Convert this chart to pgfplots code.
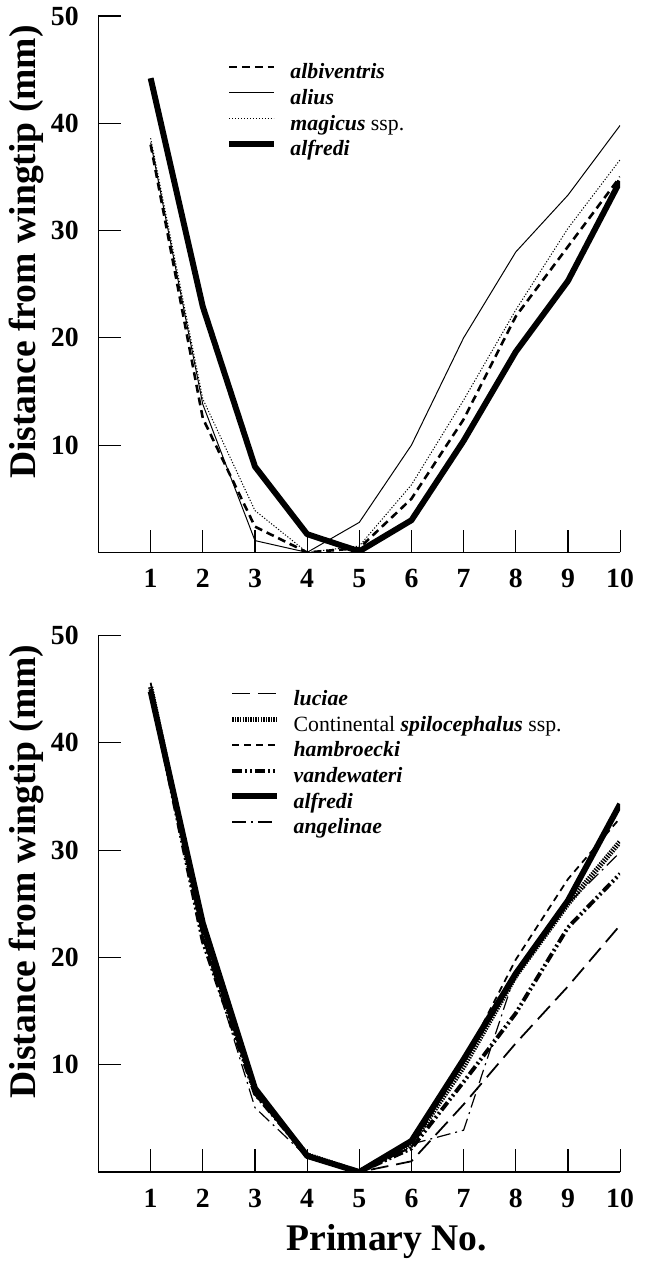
\documentclass[border=0pt]{standalone}
\usepackage{fontspec}
\setmainfont{Liberation Serif}
\usepackage{pgfplots}
\pgfplotsset{compat=1.18}

% distances of the primary tips from the wingtip, top panel
\pgfplotstableread{
x  albiventris alius magicus alfredi
1  38.0  38.2  38.6  44.2
2  12.5  13.8  14.3  22.9
3  2.4   1.1   3.9   8.0
4  0.0   0.0   0.0   1.7
5  0.4   2.8   0.6   0.1
6  5.0   10.0  6.3   3.0
7  12.4  20.0  14.2  10.4
8  22.0  28.0  22.6  18.7
9  28.5  33.3  30.2  25.3
10 35.0  39.8  36.6  34.6
}\toppanel

% bottom panel
\pgfplotstableread{
x  luciae cont hamb vand alfredi angel
1  45.0 45.2 45.6 45.0 44.8 45.0
2  22.0 22.5 22.0 21.5 23.2 21.8
3  7.2  7.6  7.5  7.3  7.8  6.0
4  1.5  1.6  1.5  1.5  1.5  1.4
5  0.0  0.0  0.0  0.0  0.0  0.0
6  1.0  2.6  2.3  2.2  2.9  2.6
7  6.3  9.8  10.3 8.4  10.5 3.9
8  12.0 18.3 19.8 14.8 18.5 18.6
9  17.3 25.0 27.3 22.8 25.3 25.0
10 23.0 30.8 33.0 27.8 34.3 29.8
}\botpanel

\pgfplotsset{
  wing/.style={
    scale only axis, width=263.5pt, height=271pt,
    xmin=0, xmax=10, ymin=0, ymax=50,
    axis x line=bottom, axis y line=left,
    axis line style={-, line width=0.6pt},
    xtick={1,...,10}, ytick={10,20,...,50},
    tick align=inside, major tick length=11.5pt,
    tick style={line width=0.6pt, black},
    /pgf/number format/assume math mode=true,
    ticklabel style={font=\fontsize{14}{16}\selectfont\bfseries},
    xticklabel style={yshift=-5pt},
    yticklabel style={xshift=-6.5pt},
    ylabel={Distance from wingtip (mm)},
    ylabel style={font=\fontsize{19}{22}\selectfont\bfseries,
      at={(axis description cs:-0.1376,0.56)}, anchor=center},
    legend cell align=left,
    legend image code/.code={\draw[#1] (0pt,3.5pt) -- (22.5pt,3.5pt);},
    legend style={draw=none, fill=none, inner sep=0pt,
      font=\fontsize{11}{13}\selectfont,
      nodes={inner sep=0pt, text height=9pt, text depth=4pt},
      column sep=7pt, anchor=north west},
    line join=round,
  },
}

\begin{document}
\begin{tikzpicture}
\begin{axis}[wing, legend style={at={(0.244,0.917)}}]
\addplot[black, line width=1.3pt, dash pattern=on 4pt off 2.5pt] table[y=albiventris] {\toppanel};
\addlegendentry{\textbf{\textit{albiventris}}}
\addplot[black, line width=0.5pt] table[y=alius] {\toppanel};
\addlegendentry{\textbf{\textit{alius}}}
\addplot[black, line width=0.5pt, dash pattern=on 0.6pt off 0.9pt] table[y=magicus] {\toppanel};
\addlegendentry{\textbf{\textit{magicus}} ssp.}
\addplot[black, line width=3pt] table[y=alfredi] {\toppanel};
\addlegendentry{\textbf{\textit{alfredi}}}
\end{axis}

\begin{axis}[wing, at={(0,-313pt)}, legend style={at={(0.25,0.904)}},
  xlabel={Primary No.},
  xlabel style={font=\fontsize{19}{22}\selectfont\bfseries,
    at={(axis description cs:0.553,0)}, anchor=center, yshift=-35pt}]
\addplot[black, line width=0.9pt, dash pattern=on 9pt off 4pt] table[y=luciae] {\botpanel};
\addlegendentry{\textbf{\textit{luciae}}}
\addplot[black, line width=2.6pt, dash pattern=on 0.7pt off 0.6pt] table[y=cont] {\botpanel};
\addlegendentry{Continental \textbf{\textit{spilocephalus}} ssp.}
\addplot[black, line width=0.9pt, dash pattern=on 3.5pt off 2.5pt] table[y=hamb] {\botpanel};
\addlegendentry{\textbf{\textit{hambroecki}}}
\addplot[black, line width=2pt, dash pattern=on 5pt off 1.5pt on 1pt off 1.5pt on 1pt off 1.5pt] table[y=vand] {\botpanel};
\addlegendentry{\textbf{\textit{vandewateri}}}
\addplot[black, line width=3pt] table[y=alfredi] {\botpanel};
\addlegendentry{\textbf{\textit{alfredi}}}
\addplot[black, line width=0.6pt, dash pattern=on 7pt off 2.5pt on 1pt off 2.5pt] table[y=angel] {\botpanel};
\addlegendentry{\textbf{\textit{angelinae}}}
\end{axis}

\path (-49.75pt,-354pt) rectangle (276.25pt,278.5pt);
\end{tikzpicture}
\end{document}
